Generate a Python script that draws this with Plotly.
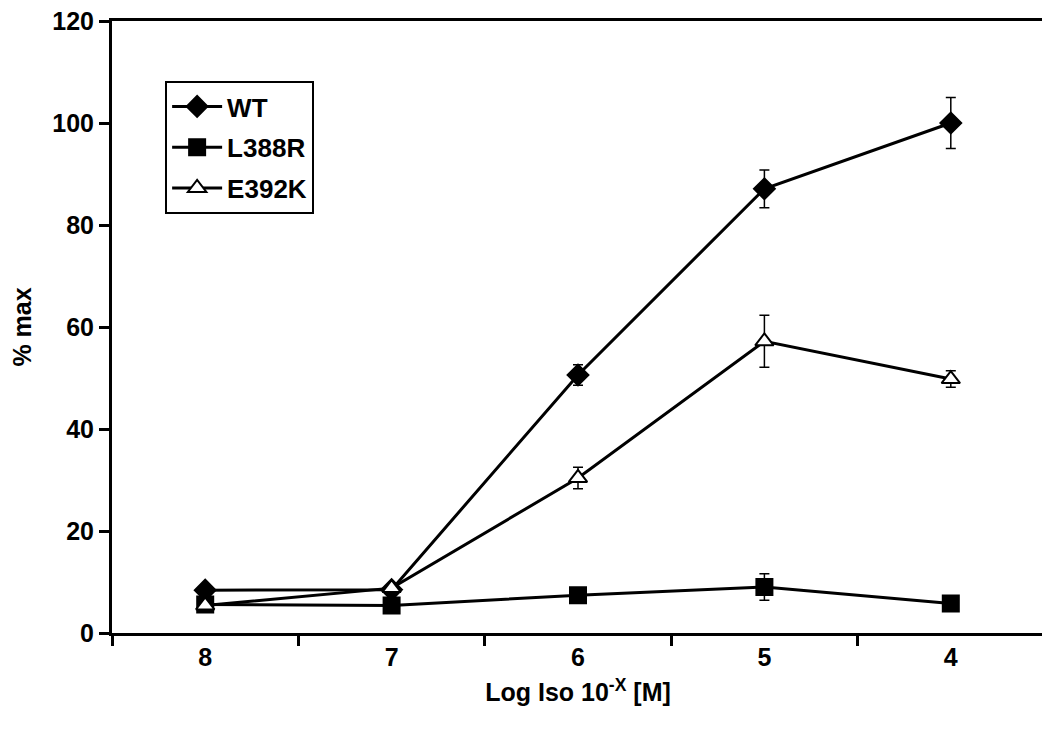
import plotly.graph_objects as go

# x categories (log concentration exponent)
doses = ["8", "7", "6", "5", "4"]

wt = [8.4, 8.5, 50.6, 87.1, 100.0]
wt_err = [0.6, 0.5, 2.0, 3.7, 5.0]

l388r = [5.6, 5.4, 7.4, 9.0, 5.8]
l388r_err = [0.5, 0.5, 0.6, 2.6, 0.5]

e392k = [5.4, 8.8, 30.4, 57.2, 49.8]
e392k_err = [0.5, 0.6, 2.1, 5.1, 1.6]

FONT = "Liberation Sans, Arial, Helvetica, sans-serif"

fig = go.Figure()

def add_series(name, y, err, symbol, fill):
    fig.add_trace(go.Scatter(
        x=doses, y=y, name=name, mode="lines+markers", legendgroup=name,
        line=dict(color="black", width=3),
        marker=dict(symbol=symbol, size=16, color=fill,
                    line=dict(color="black", width=2)),
        error_y=dict(type="data", array=err, visible=True,
                     color="black", thickness=1.5, width=5),
    ))

add_series("WT", wt, wt_err, "diamond", "black")
add_series("L388R", l388r, l388r_err, "square", "black")
add_series("E392K", e392k, e392k_err, "triangle-up", "white")

axis_font = dict(family=FONT, size=25, color="black", weight="bold")

fig.update_xaxes(
    type="category", categoryorder="array", categoryarray=doses,
    range=[-0.5, 4.5], tickson="boundaries",
    ticks="outside", ticklen=10, tickwidth=3, tickcolor="black",
    showline=True, linewidth=3, linecolor="black", mirror=True,
    showgrid=False, zeroline=False, automargin=False,
    tickfont=axis_font, ticklabeloverflow="allow",
    title=dict(text="Log Iso 10<sup>-X</sup> [M]", font=axis_font, standoff=14),
)
fig.update_yaxes(
    range=[0, 120], tickvals=[0, 20, 40, 60, 80, 100, 120],
    ticks="outside", ticklen=10, tickwidth=3, tickcolor="black",
    showline=True, linewidth=3, linecolor="black", mirror=True,
    showgrid=False, zeroline=False, automargin=False,
    tickfont=axis_font, ticklabeloverflow="allow",
    title=dict(text="% max", font=axis_font, standoff=14),
)

fig.update_layout(
    width=1050, height=749,
    margin=dict(l=104, r=14, t=13, b=124),
    paper_bgcolor="white", plot_bgcolor="white",
    font=dict(family=FONT, color="black"),
    showlegend=True,
    legend=dict(
        x=0.057, y=0.902, xanchor="left", yanchor="top",
        bgcolor="white", bordercolor="black", borderwidth=2,
        itemwidth=50, tracegroupgap=4,
        font=dict(family=FONT, size=26, color="black", weight="bold"),
    ),
)

fig.write_html("out.html")
